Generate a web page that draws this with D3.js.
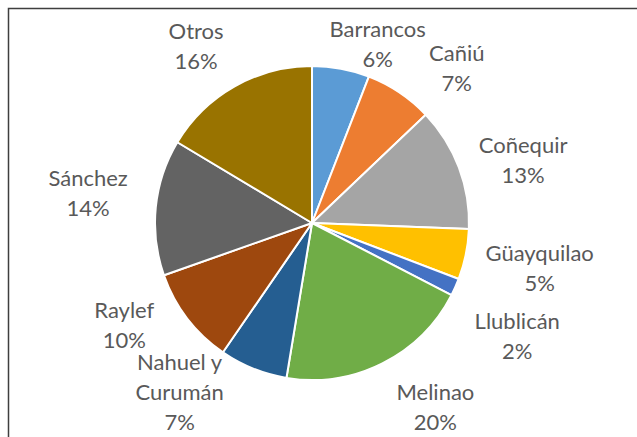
<!DOCTYPE html>
<html>
<head>
<meta charset="utf-8">
<script src="https://cdn.jsdelivr.net/npm/d3@7"></script>
<style>
	body { margin: 0; background: #fff; }
	text { font-family: Lato, "Open Sans", sans-serif; font-size: 22px; fill: #595959; }
</style>
</head>
<body>
<div id="chart"></div>
<script>
// slice names (each entry = lines of the label), clockwise from 12 o'clock
const categories = [['Barrancos'], ['Cañiú'], ['Coñequir'], ['Güayquilao'], ['Llublicán'], ['Melinao'], ['Nahuel y', 'Curumán'], ['Raylef'], ['Sánchez'], ['Otros']];
// shares (labels show them rounded)
const shares = [5.9, 7.0, 12.7, 5.2, 1.8, 20.0, 7.0, 10.0, 14.0, 16.4];
const sliceColors = ['#5b9bd5', '#ed7d31', '#a5a5a5', '#ffc000', '#4472c4', '#70ad47', '#255e91', '#9e480e', '#636363', '#997300'];
// hand nudges to mimic the "best fit" label placement
const labelNudge = [[26, 32], [25, 24], [10, 13], [17, 2], [9, 25], [27, -8], [-52, -30], [-17, -29], [-10, -8], [-10, 10]];

const width = 637, height = 437;
const cx = 312, cy = 223, radius = 157;
const labelRadius = 215, lineGap = 30;

const svg = d3.select('#chart').append('svg').attr('width', width).attr('height', height);

// frame (only top and left edges fall inside the picture)
svg.append('path')
	.attr('d', `M8.5,${height} V8.5 H${width}`)
	.attr('fill', 'none')
	.attr('stroke', '#3f3f3f')
	.attr('stroke-width', 1.5);

const pie = d3.pie().sort(null).value(d => d.value);
const data = pie(shares.map((v, i) => ({ value: v, name: categories[i], color: sliceColors[i], nudge: labelNudge[i] })));

const arc = d3.arc().innerRadius(0).outerRadius(radius);
const labelArc = d3.arc().innerRadius(labelRadius).outerRadius(labelRadius);

const g = svg.append('g').attr('transform', `translate(${cx}, ${cy})`);

g.selectAll('.slice')
	.data(data)
	.join('path')
	.attr('class', 'slice')
	.attr('d', arc)
	.attr('fill', d => d.data.color)
	.attr('stroke', '#fff')
	.attr('stroke-width', 2)
	.attr('stroke-linejoin', 'round');

// labels: name line(s) + percentage
const labels = g.selectAll('.label')
	.data(data)
	.join('text')
	.attr('class', 'label')
	.attr('text-anchor', 'middle');

labels.each(function (d) {
	const [x, y] = labelArc.centroid(d);
	const px = x + d.data.nudge[0];
	const py = y + d.data.nudge[1];
	const lines = d.data.name.concat([`${Math.round(d.data.value)}%`]);
	const top = py - (lines.length - 1) * lineGap / 2;
	d3.select(this).selectAll('tspan')
		.data(lines)
		.join('tspan')
		.attr('x', px)
		.attr('y', (l, i) => top + i * lineGap + 8)
		.text(l => l);
});
</script>
</body>
</html>
